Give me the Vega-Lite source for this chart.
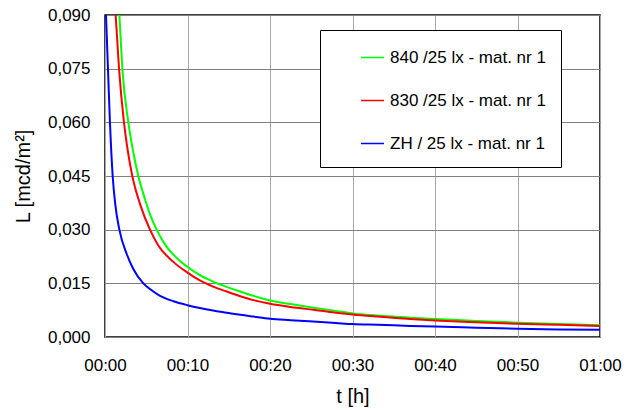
{
  "$schema": "https://vega.github.io/schema/vega-lite/v6.json",
  "width": 495,
  "height": 322,
  "autosize": {"type": "none"},
  "padding": {"left": 105, "top": 15, "right": 32, "bottom": 73},
  "background": "white",
  "config": {
    "font": "Liberation Sans",
    "view": {"stroke": "black", "strokeWidth": 1.5},
    "axis": {"labelFont": "Liberation Sans", "titleFont": "Liberation Sans", "labelFontSize": 17, "titleFontSize": 20, "labelColor": "black", "titleColor": "black", "titleFontWeight": "normal", "ticks": false, "domain": false, "labelFlush": false}
  },
  "data": {"values": [
    {"t": 1.74, "L": 0.0900, "s": "840 /25 lx - mat. nr 1"},
    {"t": 2.1, "L": 0.0750, "s": "840 /25 lx - mat. nr 1"},
    {"t": 2.83, "L": 0.0600, "s": "840 /25 lx - mat. nr 1"},
    {"t": 3.4, "L": 0.0520, "s": "840 /25 lx - mat. nr 1"},
    {"t": 4.04, "L": 0.0450, "s": "840 /25 lx - mat. nr 1"},
    {"t": 4.85, "L": 0.0385, "s": "840 /25 lx - mat. nr 1"},
    {"t": 5.5, "L": 0.0340, "s": "840 /25 lx - mat. nr 1"},
    {"t": 6.26, "L": 0.0300, "s": "840 /25 lx - mat. nr 1"},
    {"t": 7.47, "L": 0.0252, "s": "840 /25 lx - mat. nr 1"},
    {"t": 8.69, "L": 0.0221, "s": "840 /25 lx - mat. nr 1"},
    {"t": 10, "L": 0.0196, "s": "840 /25 lx - mat. nr 1"},
    {"t": 11.5, "L": 0.0173, "s": "840 /25 lx - mat. nr 1"},
    {"t": 13.1, "L": 0.0155, "s": "840 /25 lx - mat. nr 1"},
    {"t": 14.75, "L": 0.0140, "s": "840 /25 lx - mat. nr 1"},
    {"t": 16.4, "L": 0.0127, "s": "840 /25 lx - mat. nr 1"},
    {"t": 18, "L": 0.0115, "s": "840 /25 lx - mat. nr 1"},
    {"t": 20, "L": 0.0102, "s": "840 /25 lx - mat. nr 1"},
    {"t": 22.5, "L": 0.0092, "s": "840 /25 lx - mat. nr 1"},
    {"t": 25.25, "L": 0.0082, "s": "840 /25 lx - mat. nr 1"},
    {"t": 28, "L": 0.0073, "s": "840 /25 lx - mat. nr 1"},
    {"t": 30, "L": 0.0066, "s": "840 /25 lx - mat. nr 1"},
    {"t": 33, "L": 0.0060, "s": "840 /25 lx - mat. nr 1"},
    {"t": 37, "L": 0.0054, "s": "840 /25 lx - mat. nr 1"},
    {"t": 40, "L": 0.0050, "s": "840 /25 lx - mat. nr 1"},
    {"t": 45, "L": 0.0045, "s": "840 /25 lx - mat. nr 1"},
    {"t": 50, "L": 0.0040, "s": "840 /25 lx - mat. nr 1"},
    {"t": 55, "L": 0.0036, "s": "840 /25 lx - mat. nr 1"},
    {"t": 60, "L": 0.0033, "s": "840 /25 lx - mat. nr 1"},
    {"t": 1.29, "L": 0.0900, "s": "830 /25 lx - mat. nr 1"},
    {"t": 1.70, "L": 0.0750, "s": "830 /25 lx - mat. nr 1"},
    {"t": 2.30, "L": 0.0600, "s": "830 /25 lx - mat. nr 1"},
    {"t": 2.8, "L": 0.0515, "s": "830 /25 lx - mat. nr 1"},
    {"t": 3.31, "L": 0.0450, "s": "830 /25 lx - mat. nr 1"},
    {"t": 4.3, "L": 0.0368, "s": "830 /25 lx - mat. nr 1"},
    {"t": 5.45, "L": 0.0300, "s": "830 /25 lx - mat. nr 1"},
    {"t": 6.46, "L": 0.0256, "s": "830 /25 lx - mat. nr 1"},
    {"t": 8.28, "L": 0.0210, "s": "830 /25 lx - mat. nr 1"},
    {"t": 10, "L": 0.0180, "s": "830 /25 lx - mat. nr 1"},
    {"t": 11.5, "L": 0.0158, "s": "830 /25 lx - mat. nr 1"},
    {"t": 13.1, "L": 0.0141, "s": "830 /25 lx - mat. nr 1"},
    {"t": 14.75, "L": 0.0127, "s": "830 /25 lx - mat. nr 1"},
    {"t": 16.4, "L": 0.0114, "s": "830 /25 lx - mat. nr 1"},
    {"t": 18, "L": 0.0103, "s": "830 /25 lx - mat. nr 1"},
    {"t": 20, "L": 0.0093, "s": "830 /25 lx - mat. nr 1"},
    {"t": 22.5, "L": 0.0084, "s": "830 /25 lx - mat. nr 1"},
    {"t": 25.25, "L": 0.0076, "s": "830 /25 lx - mat. nr 1"},
    {"t": 28, "L": 0.0068, "s": "830 /25 lx - mat. nr 1"},
    {"t": 30, "L": 0.0063, "s": "830 /25 lx - mat. nr 1"},
    {"t": 33, "L": 0.0057, "s": "830 /25 lx - mat. nr 1"},
    {"t": 37, "L": 0.0050, "s": "830 /25 lx - mat. nr 1"},
    {"t": 40, "L": 0.0046, "s": "830 /25 lx - mat. nr 1"},
    {"t": 45, "L": 0.0041, "s": "830 /25 lx - mat. nr 1"},
    {"t": 50, "L": 0.0037, "s": "830 /25 lx - mat. nr 1"},
    {"t": 55, "L": 0.0034, "s": "830 /25 lx - mat. nr 1"},
    {"t": 60, "L": 0.0031, "s": "830 /25 lx - mat. nr 1"},
    {"t": 0.12, "L": 0.0900, "s": "ZH / 25 lx - mat. nr 1"},
    {"t": 0.36, "L": 0.0750, "s": "ZH / 25 lx - mat. nr 1"},
    {"t": 0.6, "L": 0.0600, "s": "ZH / 25 lx - mat. nr 1"},
    {"t": 0.93, "L": 0.0450, "s": "ZH / 25 lx - mat. nr 1"},
    {"t": 1.25, "L": 0.0370, "s": "ZH / 25 lx - mat. nr 1"},
    {"t": 1.74, "L": 0.0300, "s": "ZH / 25 lx - mat. nr 1"},
    {"t": 2.63, "L": 0.0232, "s": "ZH / 25 lx - mat. nr 1"},
    {"t": 3.43, "L": 0.0190, "s": "ZH / 25 lx - mat. nr 1"},
    {"t": 4.65, "L": 0.0150, "s": "ZH / 25 lx - mat. nr 1"},
    {"t": 5.45, "L": 0.0134, "s": "ZH / 25 lx - mat. nr 1"},
    {"t": 6.67, "L": 0.0115, "s": "ZH / 25 lx - mat. nr 1"},
    {"t": 8.3, "L": 0.0100, "s": "ZH / 25 lx - mat. nr 1"},
    {"t": 10, "L": 0.0089, "s": "ZH / 25 lx - mat. nr 1"},
    {"t": 11.5, "L": 0.0081, "s": "ZH / 25 lx - mat. nr 1"},
    {"t": 13.1, "L": 0.0074, "s": "ZH / 25 lx - mat. nr 1"},
    {"t": 14.75, "L": 0.0068, "s": "ZH / 25 lx - mat. nr 1"},
    {"t": 16.4, "L": 0.0062, "s": "ZH / 25 lx - mat. nr 1"},
    {"t": 18, "L": 0.0057, "s": "ZH / 25 lx - mat. nr 1"},
    {"t": 20, "L": 0.0051, "s": "ZH / 25 lx - mat. nr 1"},
    {"t": 22.5, "L": 0.0047, "s": "ZH / 25 lx - mat. nr 1"},
    {"t": 25.25, "L": 0.0043, "s": "ZH / 25 lx - mat. nr 1"},
    {"t": 28, "L": 0.0039, "s": "ZH / 25 lx - mat. nr 1"},
    {"t": 30, "L": 0.0036, "s": "ZH / 25 lx - mat. nr 1"},
    {"t": 33, "L": 0.0034, "s": "ZH / 25 lx - mat. nr 1"},
    {"t": 37, "L": 0.0031, "s": "ZH / 25 lx - mat. nr 1"},
    {"t": 40, "L": 0.0029, "s": "ZH / 25 lx - mat. nr 1"},
    {"t": 45, "L": 0.0026, "s": "ZH / 25 lx - mat. nr 1"},
    {"t": 50, "L": 0.0023, "s": "ZH / 25 lx - mat. nr 1"},
    {"t": 55, "L": 0.0021, "s": "ZH / 25 lx - mat. nr 1"},
    {"t": 60, "L": 0.0020, "s": "ZH / 25 lx - mat. nr 1"}
  ]},
  "mark": {"type": "line", "strokeWidth": 2, "interpolate": "monotone", "clip": true},
  "encoding": {
    "x": {
      "field": "t", "type": "quantitative",
      "scale": {"domain": [0, 60], "nice": false},
      "axis": {
        "values": [0, 10, 20, 30, 40, 50, 60],
        "labelExpr": "datum.value == 60 ? '01:00' : '00:' + (datum.value < 10 ? '0' : '') + datum.value",
        "title": "t [h]",
        "labelPadding": 20,
        "titlePadding": 13,
        "titleFontSize": 20,
        "labelFlush": false,
        "gridColor": "#a6a6a6", "gridOpacity": 1, "gridWidth": 1
      }
    },
    "y": {
      "field": "L", "type": "quantitative",
      "scale": {"domain": [0, 0.09], "nice": false},
      "axis": {
        "values": [0, 0.015, 0.03, 0.045, 0.06, 0.075, 0.09],
        "labelExpr": "replace(format(datum.value, '.3f'), '.', ',')",
        "title": "L [mcd/m²]",
        "labelPadding": 15,
        "titlePadding": 14,
        "titleFontSize": 20,
        "labelFlush": false,
        "gridColor": "#808080", "gridOpacity": 1, "gridWidth": 1
      }
    },
    "color": {
      "field": "s", "type": "nominal",
      "sort": ["840 /25 lx - mat. nr 1", "830 /25 lx - mat. nr 1", "ZH / 25 lx - mat. nr 1"],
      "scale": {"domain": ["840 /25 lx - mat. nr 1", "830 /25 lx - mat. nr 1", "ZH / 25 lx - mat. nr 1"], "range": ["#00ff00", "#ff0000", "#0000ff"]},
      "legend": {
        "orient": "none", "legendX": 215, "legendY": 15,
        "title": null,
        "strokeColor": "black", "fillColor": "white", "padding": 15,
        "symbolType": "stroke", "symbolSize": 529, "symbolStrokeWidth": 1.5, "symbolOffset": 25,
        "labelFont": "Liberation Sans", "labelFontSize": 17, "labelColor": "black", "labelOffset": 5, "labelLimit": 300,
        "rowPadding": 22
      }
    }
  }
}
